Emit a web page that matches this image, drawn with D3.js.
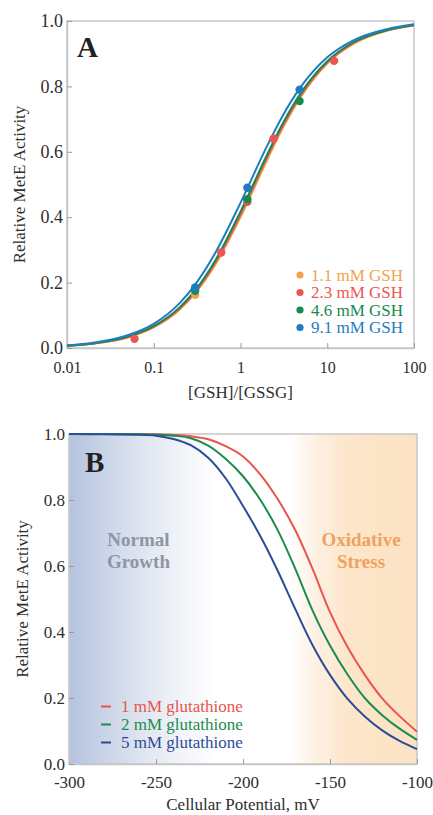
<!DOCTYPE html>
<html>
<head>
<meta charset="utf-8">
<script src="https://cdn.jsdelivr.net/npm/d3@7"></script>
<style>
  body { margin: 0; background: #fff; }
  svg, svg text { font-family: "Liberation Serif", "Times New Roman", Times, "DejaVu Serif", serif; }
</style>
</head>
<body>
<div id="container"></div>
<script>
// Panel A: MetE activity vs [GSH]/[GSSG]
const ratioGrid = [0.01, 0.02, 0.05, 0.1, 0.2, 0.3, 0.5, 1, 2, 3, 5, 10, 20, 50, 100];
const fitGsh11 = [0.007, 0.013, 0.032, 0.063, 0.118, 0.167, 0.25, 0.40, 0.571, 0.667, 0.769, 0.87, 0.93, 0.971, 0.986];
const fitGsh23 = [0.007, 0.014, 0.033, 0.065, 0.121, 0.171, 0.256, 0.408, 0.58, 0.674, 0.775, 0.873, 0.932, 0.972, 0.987];
const fitGsh46 = [0.007, 0.014, 0.035, 0.067, 0.125, 0.176, 0.263, 0.417, 0.588, 0.682, 0.781, 0.877, 0.935, 0.973, 0.988];
const fitGsh91 = [0.008, 0.016, 0.039, 0.074, 0.138, 0.194, 0.286, 0.444, 0.615, 0.706, 0.80, 0.889, 0.941, 0.976, 0.99];

const ptsGsh11 = [[0.3, 0.163]];
const ptsGsh23 = [[0.06, 0.028], [0.6, 0.292], [1.2, 0.447], [2.4, 0.64], [12, 0.878]];
const ptsGsh46 = [[0.3, 0.175], [1.2, 0.455], [4.8, 0.755]];
const ptsGsh91 = [[0.3, 0.185], [1.2, 0.49], [4.8, 0.79]];

const gshLabels = ["1.1 mM GSH", "2.3 mM GSH", "4.6 mM GSH", "9.1 mM GSH"];
const gshColors = ["#f2a24e", "#ec564e", "#188a4e", "#1f7cc4"];
const ratioTicks = [0.01, 0.1, 1, 10, 100];
const activityTicks = [0, 0.2, 0.4, 0.6, 0.8, 1.0];

// Panel B: MetE activity vs cellular potential
const potential = [-300, -280, -260, -250, -240, -230, -220, -210, -200, -190, -180, -170, -160, -150, -140, -130, -120, -110, -100];
const glut1 = [1.0, 1.0, 1.0, 0.999, 0.997, 0.993, 0.984, 0.963, 0.932, 0.877, 0.802, 0.709, 0.591, 0.46, 0.355, 0.27, 0.199, 0.145, 0.098];
const glut2 = [1.0, 1.0, 0.999, 0.998, 0.995, 0.987, 0.965, 0.925, 0.872, 0.80, 0.708, 0.592, 0.465, 0.359, 0.272, 0.2, 0.148, 0.107, 0.073];
const glut5 = [1.0, 0.999, 0.998, 0.995, 0.985, 0.966, 0.928, 0.866, 0.782, 0.69, 0.585, 0.47, 0.36, 0.27, 0.198, 0.144, 0.102, 0.07, 0.045];

const glutLabels = ["1 mM glutathione", "2 mM glutathione", "5 mM glutathione"];
const glutColors = ["#e9554d", "#1a8c4e", "#2d4c98"];
const potentialTicks = [-300, -250, -200, -150, -100];

const frameColor = "#c6c6c6";
const textColor = "#2e2e2e";

const svg = d3.select("#container").append("svg")
  .attr("width", 433)
  .attr("height", 815);

function styleAxis(g, fontSize) {
  g.attr("font-family", null);
  g.select(".domain").attr("stroke", frameColor).attr("stroke-width", 1.5);
  g.selectAll(".tick line").attr("stroke", "#9a9a9a");
  g.selectAll(".tick text")
    .attr("fill", textColor)
    .style("font-size", fontSize + "px");
}

// ---------- Panel A ----------
const xA = d3.scaleLog().domain([0.01, 100]).range([67, 414]);
const yA = d3.scaleLinear().domain([0, 1]).range([348, 21]);

svg.append("rect")
  .attr("x", xA(0.01)).attr("y", yA(1))
  .attr("width", xA(100) - xA(0.01)).attr("height", yA(0) - yA(1))
  .attr("fill", "none").attr("stroke", frameColor).attr("stroke-width", 1.5);

svg.append("g")
  .attr("transform", `translate(0,${yA(0)})`)
  .call(d3.axisBottom(xA).tickValues(ratioTicks).tickFormat(d => String(d))
    .tickSizeInner(-5).tickSizeOuter(0).tickPadding(13.5))
  .call(g => styleAxis(g, 16));

svg.append("g")
  .attr("transform", `translate(${xA(0.01)},0)`)
  .call(d3.axisLeft(yA).tickValues(activityTicks).tickFormat(d3.format(".1f"))
    .tickSizeInner(-5).tickSizeOuter(0).tickPadding(4))
  .call(g => styleAxis(g, 18));

const lineA = d3.line()
  .x((d, i) => xA(ratioGrid[i]))
  .y(d => yA(d))
  .curve(d3.curveMonotoneX);

[fitGsh11, fitGsh23, fitGsh46, fitGsh91].forEach((series, k) => {
  svg.append("path")
    .attr("d", lineA(series))
    .attr("fill", "none")
    .attr("stroke", gshColors[k])
    .attr("stroke-width", 2);
});

[ptsGsh11, ptsGsh23, ptsGsh46, ptsGsh91].forEach((pts, k) => {
  svg.append("g").selectAll("circle")
    .data(pts)
    .join("circle")
    .attr("cx", d => xA(d[0]))
    .attr("cy", d => yA(d[1]))
    .attr("r", 4.2)
    .attr("fill", gshColors[k]);
});

// legend A
gshLabels.forEach((label, k) => {
  const cy = 275 + k * 17.5;
  svg.append("circle").attr("cx", 300).attr("cy", cy).attr("r", 3.6).attr("fill", gshColors[k]);
  svg.append("text")
    .attr("x", 311).attr("y", cy).attr("dy", "0.35em")
    .attr("fill", gshColors[k])
    .style("font-size", "17px")
    .text(label);
});

svg.append("text")
  .attr("x", 77).attr("y", 57)
  .attr("fill", "#222")
  .style("font-size", "29px").style("font-weight", "bold")
  .text("A");

svg.append("text")
  .attr("transform", `translate(25,${(yA(0) + yA(1)) / 2}) rotate(-90)`)
  .attr("text-anchor", "middle")
  .attr("fill", textColor)
  .style("font-size", "17px")
  .text("Relative MetE Activity");

svg.append("text")
  .attr("x", (xA(0.01) + xA(100)) / 2).attr("y", 398)
  .attr("text-anchor", "middle")
  .attr("fill", textColor)
  .style("font-size", "17px")
  .text("[GSH]/[GSSG]");

// ---------- Panel B ----------
const xB = d3.scaleLinear().domain([-300, -100]).range([69, 417]);
const yB = d3.scaleLinear().domain([0, 1]).range([764, 434]);

const grad = svg.append("defs").append("linearGradient")
  .attr("id", "bgB")
  .attr("gradientUnits", "userSpaceOnUse")
  .attr("x1", xB(-300)).attr("x2", xB(-100))
  .attr("y1", 0).attr("y2", 0);

[[-300, "#b3c2de"], [-280, "#cad4e8"], [-260, "#dde3ef"], [-240, "#eef1f7"], [-215, "#ffffff"],
 [-173, "#ffffff"], [-157, "#fdf0e1"], [-140, "#fde6ca"], [-100, "#fbe2c3"]].forEach(s => {
  grad.append("stop")
    .attr("offset", (s[0] + 300) / 200)
    .attr("stop-color", s[1]);
});

svg.append("rect")
  .attr("x", xB(-300)).attr("y", yB(1))
  .attr("width", xB(-100) - xB(-300)).attr("height", yB(0) - yB(1))
  .attr("fill", "url(#bgB)").attr("stroke", frameColor).attr("stroke-width", 1.5);

svg.append("g")
  .attr("transform", `translate(0,${yB(0)})`)
  .call(d3.axisBottom(xB).tickValues(potentialTicks).tickFormat(d => String(d))
    .tickSizeInner(-5).tickSizeOuter(0).tickPadding(11.5))
  .call(g => styleAxis(g, 17));

svg.append("g")
  .attr("transform", `translate(${xB(-300)},0)`)
  .call(d3.axisLeft(yB).tickValues(activityTicks).tickFormat(d3.format(".1f"))
    .tickSizeInner(-5).tickSizeOuter(0).tickPadding(4))
  .call(g => styleAxis(g, 17));

const lineB = d3.line()
  .x((d, i) => xB(potential[i]))
  .y(d => yB(d))
  .curve(d3.curveCatmullRom.alpha(0.5));

[glut1, glut2, glut5].forEach((series, k) => {
  svg.append("path")
    .attr("d", lineB(series))
    .attr("fill", "none")
    .attr("stroke", glutColors[k])
    .attr("stroke-width", 2);
});

// region labels
[["Normal", "Growth", 138.5, "#8c96a4"], ["Oxidative", "Stress", 361, "#eea160"]].forEach(r => {
  const t = svg.append("text")
    .attr("text-anchor", "middle")
    .attr("fill", r[3])
    .style("font-size", "19px").style("font-weight", "bold");
  t.append("tspan").attr("x", r[2]).attr("y", 545.5).text(r[0]);
  t.append("tspan").attr("x", r[2]).attr("y", 568).text(r[1]);
});

// legend B
glutLabels.forEach((label, k) => {
  const cy = 706.5 + k * 18;
  svg.append("line")
    .attr("x1", 101).attr("x2", 111).attr("y1", cy).attr("y2", cy)
    .attr("stroke", glutColors[k]).attr("stroke-width", 2);
  svg.append("text")
    .attr("x", 121).attr("y", cy).attr("dy", "0.35em")
    .attr("fill", glutColors[k])
    .style("font-size", "17px")
    .text(label);
});

svg.append("text")
  .attr("x", 85).attr("y", 472)
  .attr("fill", "#222")
  .style("font-size", "29px").style("font-weight", "bold")
  .text("B");

svg.append("text")
  .attr("transform", `translate(28,${(yB(0) + yB(1)) / 2}) rotate(-90)`)
  .attr("text-anchor", "middle")
  .attr("fill", textColor)
  .style("font-size", "17px")
  .text("Relative MetE Activity");

svg.append("text")
  .attr("x", (xB(-300) + xB(-100)) / 2).attr("y", 810)
  .attr("text-anchor", "middle")
  .attr("fill", textColor)
  .style("font-size", "17px")
  .text("Cellular Potential, mV");
</script>
</body>
</html>
